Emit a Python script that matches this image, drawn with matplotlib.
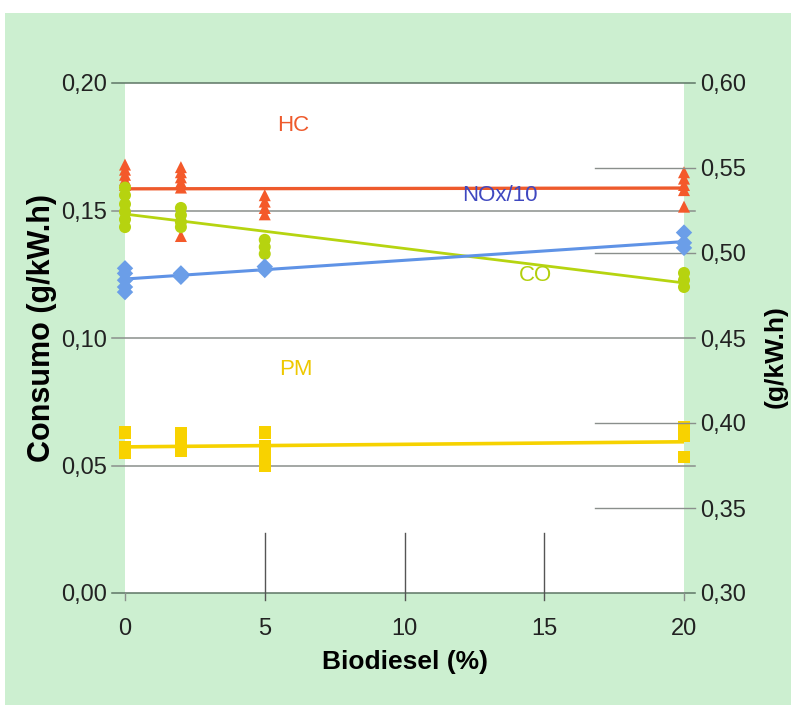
import matplotlib
matplotlib.use("Agg")
import matplotlib.pyplot as plt
from matplotlib.patches import Rectangle

plt.rcParams['font.family'] = ['Liberation Sans', 'DejaVu Sans']

# Biodiesel blend levels (%)
blend_ticks = [0, 5, 10, 15, 20]

# HC (left axis, g/kW.h)
hc_x = [0, 0, 0, 0, 0, 2, 2, 2, 2, 2, 2, 5, 5, 5, 5, 20, 20, 20, 20, 20]
hc_y = [0.168, 0.166, 0.164, 0.162, 0.160,
        0.167, 0.165, 0.163, 0.161, 0.159, 0.140,
        0.156, 0.1535, 0.151, 0.1485,
        0.165, 0.1625, 0.160, 0.158, 0.1515]
hc_trend = [0.1585, 0.1588]

# CO (left axis, g/kW.h)
co_x = [0, 0, 0, 0, 0, 0, 2, 2, 2, 2, 5, 5, 5, 20, 20, 20]
co_y = [0.159, 0.156, 0.1525, 0.1495, 0.1465, 0.1435,
        0.151, 0.1482, 0.1455, 0.1435,
        0.1385, 0.1357, 0.133,
        0.1255, 0.1227, 0.120]
co_trend = [0.1486, 0.1216]

# PM (left axis, g/kW.h)
pm_x = [0, 0, 0, 2, 2, 2, 5, 5, 5, 5, 20, 20, 20]
pm_y = [0.063, 0.057, 0.055,
        0.0627, 0.0592, 0.0557,
        0.063, 0.0576, 0.0537, 0.050,
        0.065, 0.0616, 0.0533]
pm_trend = [0.0573, 0.0593]

# NOx/10 (right axis, g/kW.h)
nox_x = [0, 0, 0, 0, 0, 2, 2, 5, 5, 20, 20, 20]
nox_y = [0.491, 0.488, 0.484, 0.480, 0.477,
         0.488, 0.486,
         0.492, 0.490,
         0.512, 0.506, 0.503]
nox_trend = [0.4847, 0.5067]

trend_x = [0, 20]

left_ticks = [0.00, 0.05, 0.10, 0.15, 0.20]
right_ticks = [0.30, 0.35, 0.40, 0.45, 0.50, 0.55, 0.60]

W, H = 791, 711
fig = plt.figure(figsize=(W / 100, H / 100), dpi=100, facecolor='white')

# green panel behind the chart
panel = Rectangle((5 / W, 6 / H), 1 - 5 / W, 1 - 19 / H,
                  transform=fig.transFigure, facecolor='#ccefd0',
                  edgecolor='none', zorder=-10)
fig.add_artist(panel)

ax = fig.add_axes([125 / W, 1 - 593 / H, 559 / W, 510 / H])
ax.set_facecolor('white')
ax.set_xlim(0, 20)
ax.set_ylim(0, 0.20)
for s in ax.spines.values():
    s.set_visible(False)

ax2 = ax.twinx()
ax2.set_ylim(0.30, 0.60)
for s in ax2.spines.values():
    s.set_visible(False)

grid_c = '#8a8f8c'
# horizontal reference lines
for v in left_ticks:
    c = '#5e7565' if v in (0.0, 0.20) else grid_c
    ax.plot([-0.45, 20.4], [v, v], color=c, lw=1.1, clip_on=False, zorder=1)
for v in [0.35, 0.40, 0.50, 0.55]:
    ax2.plot([16.8, 20.4], [v, v], color=grid_c, lw=1.0, clip_on=False, zorder=1)
# short vertical lines at the lower part
for v in [5, 10, 15]:
    ax.plot([v, v], [-0.0027, 0.0235], color='#555555', lw=1.0, clip_on=False, zorder=1)
for v in [0, 20]:
    ax.plot([v, v], [-0.0027, 0], color=grid_c, lw=1.0, clip_on=False, zorder=1)

# trend lines
ax.plot(trend_x, hc_trend, color='#ee5a2c', lw=2.4, zorder=3)
ax.plot(trend_x, co_trend, color='#b6d410', lw=2.0, zorder=3)
ax.plot(trend_x, pm_trend, color='#f6d200', lw=2.6, zorder=3)
ax2.plot(trend_x, nox_trend, color='#5f93e6', lw=2.2, zorder=3)

# measured points
ax.scatter(hc_x, hc_y, marker='^', s=75, color='#f4592a', edgecolors='none',
           clip_on=False, zorder=4)
ax.scatter(co_x, co_y, marker='o', s=75, color='#b6d30f', edgecolors='none',
           clip_on=False, zorder=4)
ax.scatter(pm_x, pm_y, marker='s', s=80, color='#f8d200', edgecolors='none',
           clip_on=False, zorder=4)
ax2.scatter(nox_x, nox_y, marker='D', s=70, color='#6b9ee8', edgecolors='none',
            clip_on=False, zorder=4)

# series names
name_fs = 16
ax.text(6.0, 0.1835, 'HC', color='#ee5a2c', fontsize=name_fs, ha='center', va='center')
ax.text(13.4, 0.156, 'NOx/10', color='#3f48c0', fontsize=name_fs, ha='center', va='center')
ax.text(14.7, 0.1247, 'CO', color='#b2cf0c', fontsize=name_fs, ha='center', va='center')
ax.text(6.1, 0.0875, 'PM', color='#eec800', fontsize=name_fs, ha='center', va='center')

# ticks and labels
tick_fs = 17
ax.set_xticks(blend_ticks)
ax.set_xticklabels([str(t) for t in blend_ticks], fontsize=tick_fs)
ax.tick_params(axis='x', length=0, pad=18, colors='#222222')
ax.set_yticks(left_ticks)
ax.set_yticklabels([f'{t:.2f}'.replace('.', ',') for t in left_ticks], fontsize=tick_fs)
ax.tick_params(axis='y', length=0, pad=13, colors='#222222')
ax2.set_yticks(right_ticks)
ax2.set_yticklabels([f'{t:.2f}'.replace('.', ',') for t in right_ticks], fontsize=tick_fs)
ax2.tick_params(axis='y', length=0, pad=11.5, colors='#222222')

ax.set_xlabel('Biodiesel (%)', fontsize=19, fontweight='bold', labelpad=7)
ax.set_ylabel('Consumo (g/kW.h)', fontsize=22, fontweight='bold')
ax.yaxis.set_label_coords(-0.122, 0.52)
ax2.set_ylabel('(g/kW.h)', fontsize=19, fontweight='bold')
ax2.yaxis.set_label_coords(1.143, 0.463)

fig.savefig('out.png', dpi=100, facecolor=fig.get_facecolor())
